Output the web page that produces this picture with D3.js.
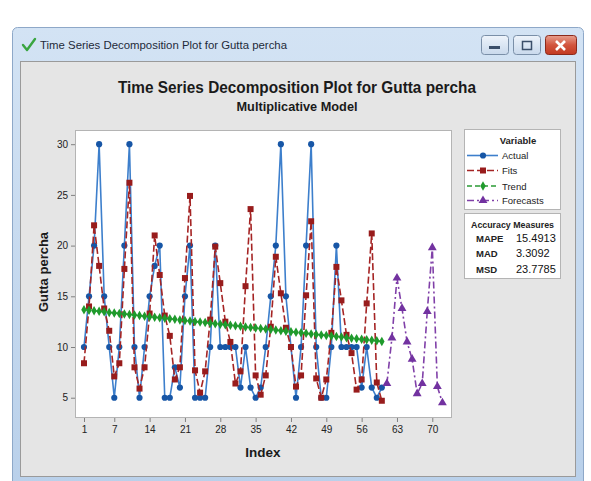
<!DOCTYPE html>
<html>
<head>
<meta charset="utf-8">
<script src="https://cdn.jsdelivr.net/npm/d3@7"></script>
<style>
  html, body { margin: 0; padding: 0; background: #ffffff; }
  svg { display: block; }
  text { font-family: "Liberation Sans Narrow", "Arial Narrow", "Liberation Sans", Arial, sans-serif; }
</style>
</head>
<body>
<svg id="chart" width="591" height="481"></svg>
<script>
// ---------------- data ----------------
const windowTitle = "Time Series Decomposition Plot for Gutta percha";
const chartTitle = "Time Series Decomposition Plot for Gutta percha";
const chartSubtitle = "Multiplicative Model";
const yLabel = "Gutta percha";
const xLabel = "Index";

const actual = [10,15,20,30,15,10,5,10,20,30,10,5,
                10,15,18,20,5,5,8,6,15,20,5,5,
                5,10,20,10,10,10,10,6,10,6,5,6,
                10,15,20,30,15,10,5,10,20,30,10,5,
                5,10,20,10,10,10,10,6,10,6,5,6];
const fits = [8.4,14.0,22.0,18.0,13.8,11.6,7.1,8.4,17.7,26.2,8.0,5.9,
              8.0,13.3,21.0,17.1,13.1,11.1,6.8,8.0,16.8,24.9,7.7,5.5,
              7.6,12.7,19.9,16.3,12.5,10.5,6.4,7.6,16.0,23.6,7.2,5.3,
              7.2,12.0,18.9,15.3,11.9,10.0,6.1,7.2,15.1,22.4,6.9,5.0,
              6.8,11.4,17.9,14.6,11.2,9.4,5.8,6.8,14.3,21.2,6.5,4.7];
const trend = [13.68,13.63,13.57,13.52,13.47,13.41,13.36,13.31,13.26,13.20,13.15,13.10,
               13.04,12.99,12.94,12.88,12.83,12.78,12.73,12.67,12.62,12.57,12.51,12.46,
               12.41,12.35,12.30,12.25,12.20,12.14,12.09,12.04,11.98,11.93,11.88,11.82,
               11.77,11.72,11.67,11.61,11.56,11.51,11.45,11.40,11.35,11.29,11.24,11.19,
               11.14,11.08,11.03,10.98,10.92,10.87,10.82,10.76,10.71,10.66,10.61,10.55];
const forecasts = [6.4,10.9,16.8,13.8,10.5,8.8,5.4,6.4,13.5,19.8,6.1,4.5];
const forecastStart = 61;

const xTicks = [1,7,14,21,28,35,42,49,56,63,70];
const yTicks = [5,10,15,20,25,30];

const legendItems = ["Actual","Fits","Trend","Forecasts"];
const accuracyNames = ["MAPE","MAD","MSD"];
const accuracyValues = ["15.4913","3.3092","23.7785"];

// ---------------- drawing ----------------
const svg = d3.select("#chart");
const defs = svg.append("defs");
const tg = defs.append("linearGradient").attr("id","tbar").attr("x1",0).attr("y1",0).attr("x2",0).attr("y2",1);
tg.append("stop").attr("offset","0%").attr("stop-color","#d3e3f4");
tg.append("stop").attr("offset","100%").attr("stop-color","#b9d0ea");
const cg = defs.append("linearGradient").attr("id","closeg").attr("x1",0).attr("y1",0).attr("x2",0).attr("y2",1);
cg.append("stop").attr("offset","0%").attr("stop-color","#e8a08f");
cg.append("stop").attr("offset","50%").attr("stop-color","#d2553e");
cg.append("stop").attr("offset","100%").attr("stop-color","#c23a22");
const bg = defs.append("linearGradient").attr("id","btng").attr("x1",0).attr("y1",0).attr("x2",0).attr("y2",1);
bg.append("stop").attr("offset","0%").attr("stop-color","#eef4fb");
bg.append("stop").attr("offset","100%").attr("stop-color","#c9d9ec");

// window frame
svg.append("rect").attr("x",12.5).attr("y",27.5).attr("width",571).attr("height",470)
  .attr("rx",5).attr("fill","url(#tbar)").attr("stroke","#8ea8c8");
// client area
svg.append("rect").attr("x",20.5).attr("y",61.5).attr("width",555).attr("height",415)
  .attr("fill","#e5e5e5").attr("stroke","#9a9a9a");

// title bar icon (check mark)
svg.append("path").attr("d","M23,45 L27,50 L35,39").attr("fill","none")
  .attr("stroke","#3aa540").attr("stroke-width",2.4).attr("stroke-linecap","round").attr("stroke-linejoin","round");
svg.append("text").attr("x",40).attr("y",49).attr("font-size",10.5).attr("fill","#1e2a3a")
  .attr("textLength",247).attr("lengthAdjust","spacingAndGlyphs").text(windowTitle);

// buttons
const btns = [{x:481,w:27,t:"min"},{x:513,w:27,t:"max"},{x:545,w:31,t:"close"}];
btns.forEach(b => {
  svg.append("rect").attr("x",b.x+0.5).attr("y",35.5).attr("width",b.w).attr("height",19).attr("rx",3)
    .attr("fill", b.t==="close" ? "url(#closeg)" : "url(#btng)")
    .attr("stroke", b.t==="close" ? "#8b2a1c" : "#7a8fa8");
});
svg.append("rect").attr("x",489).attr("y",46).attr("width",11).attr("height",3).attr("fill","#3b4f6a");
svg.append("rect").attr("x",522.5).attr("y",41.5).attr("width",9).attr("height",8).attr("fill","none").attr("stroke","#3b4f6a").attr("stroke-width",1.5);
svg.append("path").attr("d","M556,41 L565,50 M565,41 L556,50").attr("stroke","#ffffff").attr("stroke-width",2.6);

// titles
svg.append("text").attr("x",297).attr("y",93).attr("text-anchor","middle").attr("font-size",17)
  .attr("font-weight","bold").attr("fill","#1a1a1a")
  .attr("textLength",358).attr("lengthAdjust","spacingAndGlyphs").text(chartTitle);
svg.append("text").attr("x",297).attr("y",111).attr("text-anchor","middle").attr("font-size",13)
  .attr("font-weight","bold").attr("fill","#1a1a1a")
  .attr("textLength",121).attr("lengthAdjust","spacingAndGlyphs").text(chartSubtitle);

// plot area
const pl = 75, pr = 452, pt = 130, pb = 418;
svg.append("rect").attr("x",pl+0.5).attr("y",pt+0.5).attr("width",pr-pl-1).attr("height",pb-pt-1)
  .attr("fill","#ffffff").attr("stroke","#b4b4b4");

const x = d3.scaleLinear().domain([-0.78, 73.9]).range([pl, pr]);
const y = d3.scaleLinear().domain([3.0, 31.4]).range([pb, pt]);

// axes
const xAxis = d3.axisBottom(x).tickValues(xTicks).tickSize(4).tickPadding(4).tickFormat(d3.format("d"));
const gx = svg.append("g").attr("transform",`translate(0,${pb})`).call(xAxis);
gx.select(".domain").remove();
gx.selectAll("line").attr("stroke","#808080");
gx.selectAll("text").attr("font-size",10).attr("fill","#222").attr("font-family","Liberation Sans, Arial, sans-serif");

const yAxis = d3.axisLeft(y).tickValues(yTicks).tickSize(4).tickPadding(3).tickFormat(d3.format("d"));
const gy = svg.append("g").attr("transform",`translate(${pl},0)`).call(yAxis);
gy.select(".domain").remove();
gy.selectAll("line").attr("stroke","#808080");
gy.selectAll("text").attr("font-size",10).attr("fill","#222").attr("font-family","Liberation Sans, Arial, sans-serif");

svg.append("text").attr("x",263).attr("y",457).attr("text-anchor","middle").attr("font-size",13.5)
  .attr("font-weight","bold").attr("fill","#1a1a1a").text(xLabel);
svg.append("text").attr("transform","translate(48,272) rotate(-90)").attr("text-anchor","middle")
  .attr("font-size",13).attr("font-weight","bold").attr("fill","#1a1a1a").text(yLabel);

// series
const idx = (arr, start) => arr.map((v,i) => ({i: start + i, v}));
const actualPts = idx(actual, 1), fitsPts = idx(fits, 1), trendPts = idx(trend, 1), fcPts = idx(forecasts, forecastStart);
const line = d3.line().x(d => x(d.i)).y(d => y(d.v));

const styles = {
  Actual:    {line:"#3d7fcc", mark:"#1756a6", dash:null,        w:1.6, shape:d3.symbolCircle,   size:30},
  Fits:      {line:"#a52424", mark:"#981c1c", dash:"7,3",       w:1.6, shape:d3.symbolSquare,   size:36},
  Trend:     {line:"#2a9a34", mark:"#1f9a2c", dash:"5,3",       w:1.6, shape:d3.symbolDiamond,  size:26},
  Forecasts: {line:"#8040a8", mark:"#7232a0", dash:"7,3,2,3",   w:1.6, shape:d3.symbolTriangle, size:34}
};
const seriesData = {Actual: actualPts, Fits: fitsPts, Trend: trendPts, Forecasts: fcPts};

legendItems.forEach(name => {
  const s = styles[name];
  const g = svg.append("g");
  g.append("path").datum(seriesData[name]).attr("d", line).attr("fill","none")
    .attr("stroke", s.line).attr("stroke-width", s.w).attr("stroke-dasharray", s.dash);
  g.selectAll("path.m").data(seriesData[name]).enter().append("path").attr("class","m")
    .attr("transform", d => `translate(${x(d.i)},${y(d.v)})`)
    .attr("d", d3.symbol().type(s.shape).size(s.size)).attr("fill", s.mark);
});

// legend box
svg.append("rect").attr("x",464.5).attr("y",129.5).attr("width",96).attr("height",80)
  .attr("fill","#ffffff").attr("stroke","#b4b4b4");
svg.append("text").attr("x",518).attr("y",144).attr("text-anchor","middle").attr("font-size",9.5)
  .attr("font-weight","bold").attr("fill","#222").text("Variable");
const legY = [155.5, 170.5, 186, 200.5];
legendItems.forEach((name, k) => {
  const s = styles[name];
  const yy = legY[k];
  svg.append("line").attr("x1",467).attr("x2",498).attr("y1",yy).attr("y2",yy)
    .attr("stroke", s.line).attr("stroke-width",1.6).attr("stroke-dasharray", s.dash);
  svg.append("path").attr("transform",`translate(483,${yy})`)
    .attr("d", d3.symbol().type(s.shape).size(s.size)).attr("fill", s.mark);
  svg.append("text").attr("x",502).attr("y",yy+3.5).attr("font-size",9.5).attr("fill","#222").text(name);
});

// accuracy box
svg.append("rect").attr("x",464.5).attr("y",213.5).attr("width",96).attr("height",65)
  .attr("fill","#ffffff").attr("stroke","#b4b4b4");
svg.append("text").attr("x",471).attr("y",228).attr("font-size",9.5).attr("font-weight","bold").attr("fill","#222")
  .attr("textLength",83).attr("lengthAdjust","spacingAndGlyphs").text("Accuracy Measures");
const accY = [241.5, 257, 272.5];
accuracyNames.forEach((n, k) => {
  svg.append("text").attr("x",476).attr("y",accY[k]).attr("font-size",9.5).attr("font-weight","bold").attr("fill","#222").text(n);
  svg.append("text").attr("x",516).attr("y",accY[k]).attr("font-size",11).attr("fill","#111").text(accuracyValues[k]);
});
</script>
</body>
</html>
